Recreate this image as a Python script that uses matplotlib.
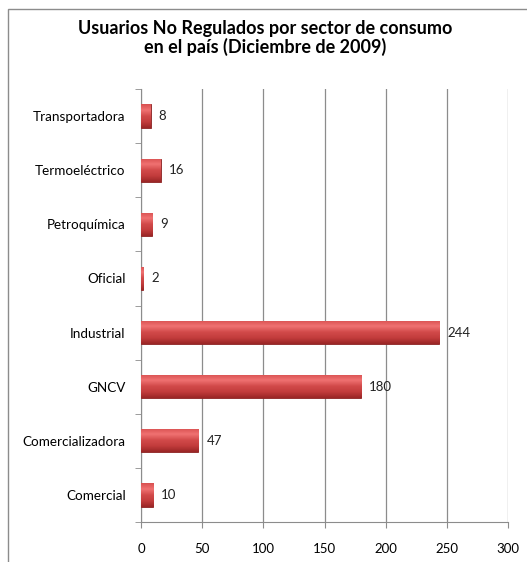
import matplotlib
matplotlib.use("Agg")
import matplotlib.pyplot as plt
import numpy as np
from matplotlib.colors import LinearSegmentedColormap
from matplotlib.patches import Rectangle

categories = ["Comercial", "Comercializadora", "GNCV", "Industrial",
              "Oficial", "Petroquímica", "Termoeléctrico", "Transportadora"]
values = [10, 47, 180, 244, 2, 9, 16, 8]
xticks = [0, 50, 100, 150, 200, 250, 300]
title = "Usuarios No Regulados por sector de consumo\nen el país (Diciembre de 2009)"

plt.rcParams['font.family'] = ['Lato', 'DejaVu Sans']

fig = plt.figure(figsize=(5.27, 5.62), dpi=100)
fig.patches.append(Rectangle((8/527, -0.1), 2.0, 1 - 9/562 + 0.1, transform=fig.transFigure,
                             fill=False, edgecolor='#8c8c8c', linewidth=1.0))
ax = fig.add_axes([141/527, 1 - 522/562, 367/527, 433/562])

y = np.arange(len(categories))
bars = ax.barh(y, values, height=0.43, color='#c0393b', edgecolor='#8a2222', linewidth=0.6, zorder=3)

cmap = LinearSegmentedColormap.from_list('g', ['#9a2626', '#c23c3c', '#d24a4a', '#f07272', '#d85050'])
grad = np.linspace(0, 1, 64).reshape(-1, 1)
for b in bars:
    bb = b.get_bbox()
    im = ax.imshow(grad, cmap=cmap, aspect='auto', origin='lower',
                   extent=[bb.x0, bb.x1, bb.y0, bb.y1], zorder=3.5)
    im.set_clip_path(b)

for yi, v in zip(y, values):
    ax.text(v + 6.5, yi, str(v), va='center', ha='left', fontsize=9.5, color='#222222')

ax.set_xlim(0, 300)
ax.set_ylim(-0.5, len(categories) - 0.5)
ax.set_xticks(xticks)
ax.set_xticklabels([str(t) for t in xticks], fontsize=9.5)
ax.set_yticks(y)
ax.set_yticklabels(categories, fontsize=9.7)
ax.set_yticks(np.arange(-0.5, len(categories), 1), minor=True)
ax.tick_params(axis='y', which='major', length=0, pad=11)
ax.tick_params(axis='y', which='minor', length=4, color='#8c8c8c', direction='out')
ax.tick_params(axis='x', length=4, color='#8c8c8c', pad=11)
ax.grid(axis='x', color='#8c8c8c', linewidth=0.9, zorder=0)
for s in ['top', 'right']:
    ax.spines[s].set_visible(False)
for s in ['left', 'bottom']:
    ax.spines[s].set_color('#8c8c8c')
ax.set_axisbelow(True)

fig.text(265/527, 1 - 38/562, title, ha='center', va='center', fontsize=13,
         fontweight='bold', linespacing=1.1)

fig.savefig('out.png', dpi=100)
